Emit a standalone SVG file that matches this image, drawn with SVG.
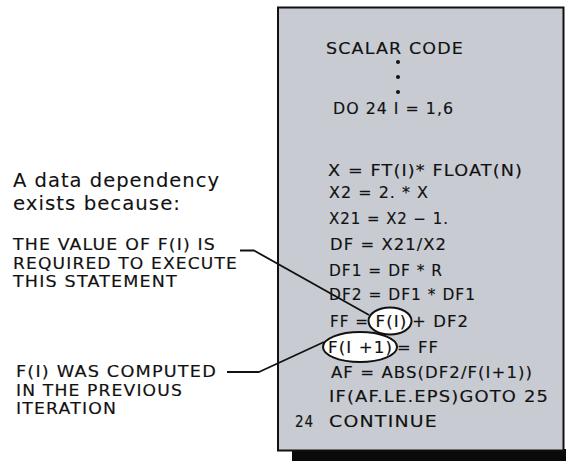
<svg xmlns="http://www.w3.org/2000/svg" width="566" height="461" viewBox="0 0 566 461">
  <defs>
    <style>
      .txt { font-family: "DejaVu Sans", "Liberation Sans", sans-serif; fill: #111; stroke: #111; stroke-width: 0.15; letter-spacing: 1px; }
      .code { font-size: 15.5px; }
      .note { font-size: 15px; }
      .lead { font-size: 19.5px; stroke-width: 0.1; }
      .panel { fill: #c8ccd2; stroke: #111; stroke-width: 2; }
      .shadow { fill: #0a0a0a; }
      .ring { fill: #ffffff; stroke: #111; stroke-width: 2; }
      .wire { fill: none; stroke: #111; stroke-width: 1.8; stroke-linejoin: round; }
    </style>
  </defs>

  <!-- code listing panel with drop shadow -->
  <g id="code-panel">
    <rect class="shadow" x="292" y="449" width="276" height="14"/>
    <rect class="panel" x="278" y="7.5" width="285.5" height="443"/>
    <text class="txt code" x="326" y="54" textLength="138" lengthAdjust="spacingAndGlyphs">SCALAR CODE</text>
    <circle cx="398" cy="62" r="2" fill="#111"/>
    <circle cx="398" cy="77" r="2" fill="#111"/>
    <circle cx="398" cy="92" r="2" fill="#111"/>
    <text class="txt code" x="333" y="114" textLength="121" lengthAdjust="spacingAndGlyphs">DO 24 I = 1,6</text>
    <text class="txt code" x="328" y="175.5" textLength="195" lengthAdjust="spacingAndGlyphs">X = FT(I)*  FLOAT(N)</text>
    <text class="txt code" x="329" y="198" textLength="100" lengthAdjust="spacingAndGlyphs">X2 = 2. * X</text>
    <text class="txt code" x="329" y="223.5" textLength="120" lengthAdjust="spacingAndGlyphs">X21 = X2 − 1.</text>
    <text class="txt code" x="330" y="249.5" textLength="117" lengthAdjust="spacingAndGlyphs">DF = X21/X2</text>
    <text class="txt code" x="329" y="275.5" textLength="114" lengthAdjust="spacingAndGlyphs">DF1 = DF * R</text>
    <text class="txt code" x="329" y="300" textLength="147" lengthAdjust="spacingAndGlyphs">DF2 = DF1 * DF1</text>
    <text class="txt code" x="330" y="326.5" textLength="39" lengthAdjust="spacingAndGlyphs">FF =</text>
    <text class="txt code" x="412" y="326.5" textLength="57" lengthAdjust="spacingAndGlyphs">+ DF2</text>
    <text class="txt code" x="397" y="353" textLength="42" lengthAdjust="spacingAndGlyphs">= FF</text>
    <text class="txt code" x="331" y="377.5" textLength="202" lengthAdjust="spacingAndGlyphs">AF = ABS(DF2/F(I+1))</text>
    <text class="txt code" x="329" y="402" textLength="220" lengthAdjust="spacingAndGlyphs">IF(AF.LE.EPS)GOTO 25</text>
    <text class="txt code" x="295" y="426.5" textLength="19" lengthAdjust="spacingAndGlyphs">24</text>
    <text class="txt code" x="329" y="426.5" textLength="109" lengthAdjust="spacingAndGlyphs">CONTINUE</text>
  </g>

  <!-- circled operands -->
  <g id="operand-f-i">
    <ellipse class="ring" cx="390" cy="321" rx="21.5" ry="13.5"/>
    <text class="txt code" x="375.5" y="326.5" textLength="32" lengthAdjust="spacingAndGlyphs">F(I)</text>
  </g>
  <g id="operand-f-i-plus-1">
    <ellipse class="ring" cx="360" cy="347" rx="37" ry="15"/>
    <text class="txt code" x="328" y="353" textLength="65" lengthAdjust="spacingAndGlyphs">F(I +1)</text>
  </g>

  <!-- explanatory notes -->
  <g id="heading">
    <text class="txt lead" x="13" y="186.5" textLength="207" lengthAdjust="spacingAndGlyphs">A data dependency</text>
    <text class="txt lead" x="13" y="210" textLength="168" lengthAdjust="spacingAndGlyphs">exists because:</text>
  </g>
  <g id="note-required">
    <text class="txt note" x="13" y="250" textLength="203" lengthAdjust="spacingAndGlyphs">THE VALUE OF F(I) IS</text>
    <text class="txt note" x="13" y="268.5" textLength="225" lengthAdjust="spacingAndGlyphs">REQUIRED TO EXECUTE</text>
    <text class="txt note" x="13" y="287" textLength="165" lengthAdjust="spacingAndGlyphs">THIS STATEMENT</text>
  </g>
  <g id="note-computed">
    <text class="txt note" x="16" y="377" textLength="201" lengthAdjust="spacingAndGlyphs">F(I) WAS COMPUTED</text>
    <text class="txt note" x="16" y="395.5" textLength="167" lengthAdjust="spacingAndGlyphs">IN THE PREVIOUS</text>
    <text class="txt note" x="16" y="414" textLength="101" lengthAdjust="spacingAndGlyphs">ITERATION</text>
  </g>

  <!-- leader lines from notes to circled operands -->
  <g id="connectors">
    <polyline class="wire" points="240,250.5 254,250.5 369,315"/>
    <polyline class="wire" points="227,372 259,372 324,342"/>
  </g>
</svg>
